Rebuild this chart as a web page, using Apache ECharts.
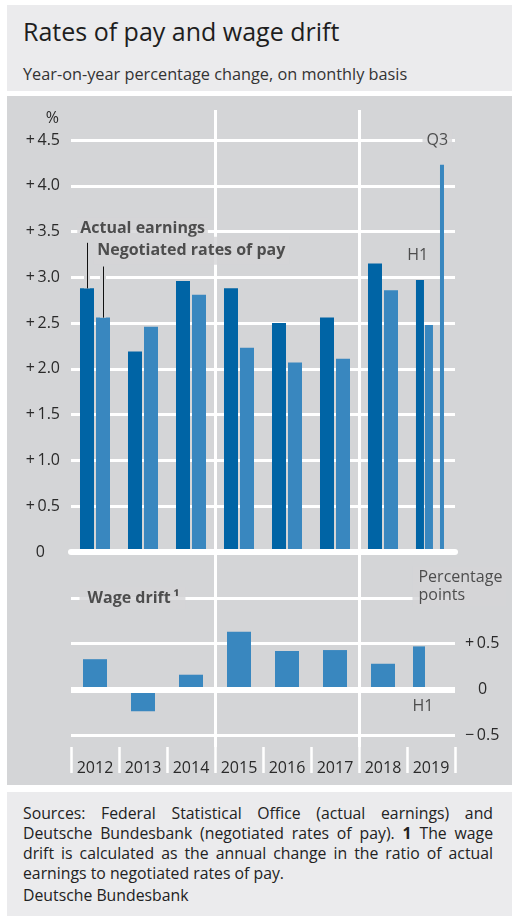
<!DOCTYPE html>
<html>
<head>
<meta charset="utf-8">
<script src="https://cdn.jsdelivr.net/npm/echarts@6/dist/echarts.min.js"></script>
<style>
  html, body { margin: 0; padding: 0; }
  body { width: 512px; height: 916px; background: #ffffff; position: relative; overflow: hidden;
         font-family: "Open Sans", sans-serif; color: #222; }
  #head { position: absolute; left: 7px; top: 5px; width: 505px; height: 86px; background: #ebebed; }
  #title { position: absolute; left: 16px; top: 11px; font-size: 25px; font-weight: 500; line-height: 30px; white-space: nowrap; color: #1e1e1e; }
  #subtitle { position: absolute; left: 16px; top: 59px; font-size: 16.3px; line-height: 20px; color: #333; white-space: nowrap; }
  #chart { position: absolute; left: 7px; top: 96px; width: 505px; height: 689px; }
  #foot { position: absolute; left: 7px; top: 792px; width: 505px; height: 124px; background: #ebebed; }
  #foottext { position: absolute; left: 16px; top: 11px; width: 470px; font-size: 15.8px; line-height: 20px; color: #222; }
  #foottext div { white-space: nowrap; }
  #foottext .j { text-align: justify; text-align-last: justify; }
  #foottext .src { margin-top: 2px; }
</style>
</head>
<body>
<div id="head">
  <div id="title">Rates of pay and wage drift</div>
  <div id="subtitle">Year-on-year percentage change, on monthly basis</div>
</div>
<div id="chart"></div>
<div id="foot">
  <div id="foottext">
    <div class="j">Sources: Federal Statistical Office (actual earnings) and</div>
    <div class="j">Deutsche Bundesbank (negotiated rates of pay). <b>1</b> The wage</div>
    <div class="j">drift is calculated as the annual change in the ratio of actual</div>
    <div>earnings to negotiated rates of pay.</div>
    <div class="src">Deutsche Bundesbank</div>
  </div>
</div>
<script>
// ---------------- data ----------------
const years = ['2012', '2013', '2014', '2015', '2016', '2017', '2018', '2019'];
// annual values 2012-2018 (2019 shown separately as H1 / Q3)
const actualEarnings   = [2.88, 2.19, 2.96, 2.88, 2.50, 2.56, 3.15, null];
const negotiatedRates  = [2.56, 2.46, 2.81, 2.23, 2.07, 2.11, 2.86, null];
const actualEarningsH1 = [2.97];   // 2019 H1
const negotiatedH1     = [2.48];   // 2019 H1
const negotiatedQ3     = [4.23];   // 2019 Q3
const wageDrift        = [0.33, -0.24, 0.16, 0.63, 0.42, 0.43, 0.28, null];
const wageDriftH1      = [0.47];   // 2019 H1
const topTicks    = [0, 0.5, 1.0, 1.5, 2.0, 2.5, 3.0, 3.5, 4.0, 4.5];
const bottomTicks = [-0.5, 0, 0.5, 1.0];

// ---------------- styling / layout ----------------
const DARK = '#0064a5', LIGHT = '#3987bf', BG = '#d4d5d7', TXT = '#2a2a2a', WHITE = '#ffffff';
const FONT = '"Open Sans", sans-serif';
const GRID_LEFT = 64, GRID_W = 384;
const PX_PER_YEAR = GRID_W / years.length;
const idx2019 = years.indexOf('2019');
// within-year positions (fraction of a year band) for the split 2019 bars
const posH1pair = idx2019 + 0.364;
const posQ3 = idx2019 + 0.729;
const posDriftH1 = idx2019 + 0.25;
const barHalf = 8 / PX_PER_YEAR;   // offset of grouped bar centres from the year centre

const missing = v => (v == null ? '-' : v);

function topLabel(v) {
  if (v === 0) return '{z|0}';
  return '+\u2009' + v.toFixed(1);
}
function bottomLabel(v) {
  if (Math.abs(v - 1) < 1e-9) return '';
  if (v === 0) return '{z|0}';
  return (v > 0 ? '+\u2009' : '\u2212\u2009') + Math.abs(v).toFixed(1);
}

const txt = (extra) => Object.assign({ fontFamily: FONT, fontSize: 16, color: TXT }, extra || {});

const annLabel = (text, extra) => ({
  show: true, position: 'right', distance: 0, formatter: text,
  fontFamily: FONT, fontSize: 16, color: TXT, ...(extra || {})
});

const topAnnotations = [
  { value: [0.119, 3.53], label: annLabel('Actual earnings', { fontWeight: 'bold', backgroundColor: BG, padding: [2, 3, 5, 3] }) },
  { value: [0.452, 3.29], label: annLabel('Negotiated rates of pay', { fontWeight: 'bold', backgroundColor: BG, padding: [5, 4, 7, 4] }) },
  { value: [7.3125, 4.5], label: annLabel('Q3', { backgroundColor: BG, padding: [2, 4, 2, 4] }) },
  { value: [6.994, 3.24], label: annLabel('H1') }
];
const bottomAnnotations = [
  { value: [0.167, 1.0], label: annLabel('Wage drift\u2009\u00b9', { fontWeight: 'bold', backgroundColor: BG, padding: [3, 6, 3, 8] }) },
  { value: [7.104, 1.0], label: annLabel('Percentage\npoints', { lineHeight: 18, backgroundColor: BG, padding: [2, 4, 2, 6], offset: [0, -11.5] }) },
  { value: [7.104, -0.19], label: annLabel('H1') }
];

const leader1x = 0.5 - barHalf, leader2x = 0.5 + barHalf;
const leaderTop1 = 3.377, leaderTop2 = 3.118;

const chart = echarts.init(document.getElementById('chart'), null, { renderer: 'canvas' });
const option = {
  animation: false,
  backgroundColor: BG,
  grid: [
    { left: GRID_LEFT, width: GRID_W, top: 44, height: 412, containLabel: false, outerBoundsMode: 'none' },
    { left: GRID_LEFT, width: GRID_W, top: 502, height: 137, containLabel: false, outerBoundsMode: 'none' },
    { left: GRID_LEFT, width: GRID_W, top: 14, height: 637, containLabel: false, outerBoundsMode: 'none' }
  ],
  xAxis: [
    { type: 'category', gridIndex: 0, data: years, position: 'bottom', z: 5,
      axisLine: { show: true, onZero: false, lineStyle: { color: WHITE, width: 6 } },
      axisTick: { show: false }, axisLabel: { show: false }, splitLine: { show: false } },
    { type: 'value', gridIndex: 0, min: 0, max: 8, show: false },
    { type: 'value', gridIndex: 0, min: 0, max: 8, show: false },
    { type: 'category', gridIndex: 1, data: years, position: 'bottom', offset: 38,
      axisLine: { show: false, onZero: false },
      axisTick: { show: true, inside: true, length: 26, lineStyle: { color: WHITE, width: 2.5 } },
      axisLabel: txt({ inside: true, margin: -3 }), splitLine: { show: false } },
    { type: 'value', gridIndex: 1, min: 0, max: 8, show: false },
    { type: 'value', gridIndex: 2, min: 0, max: 8, show: false }
  ],
  yAxis: [
    { type: 'value', gridIndex: 0, min: topTicks[0], max: topTicks[topTicks.length - 1], interval: 0.5, position: 'left',
      name: '%', nameLocation: 'end', nameGap: 22,
      nameTextStyle: txt({ align: 'right', verticalAlign: 'middle', padding: [0, 12, 0, 0] }),
      axisLine: { show: false }, axisTick: { show: false },
      axisLabel: txt({ margin: 11, formatter: topLabel, rich: { z: txt({ padding: [0, 15, 0, 0] }) } }),
      splitLine: { show: true, lineStyle: { color: WHITE, width: 3 } } },
    { type: 'value', gridIndex: 1, min: bottomTicks[0], max: bottomTicks[bottomTicks.length - 1], interval: 0.5, position: 'right',
      axisLine: { show: false }, axisTick: { show: false },
      axisLabel: txt({ margin: 10, formatter: bottomLabel, rich: { z: txt({ padding: [0, 0, 0, 13] }) } }),
      splitLine: { show: true, lineStyle: { color: WHITE, width: 3 } } },
    { type: 'value', gridIndex: 2, min: 0, max: 1, show: false }
  ],
  series: [
    { name: 'Separators', type: 'line', xAxisIndex: 5, yAxisIndex: 2, data: [[0, 0]], symbol: 'none',
      lineStyle: { opacity: 0 }, z: 1, silent: true,
      markLine: { silent: true, symbol: ['none', 'none'], label: { show: false }, z: 1,
        lineStyle: { color: WHITE, width: 3, type: 'solid' }, emphasis: { disabled: true },
        data: [{ xAxis: 3 }, { xAxis: 6 }] } },
    { name: 'Actual earnings', type: 'bar', xAxisIndex: 0, yAxisIndex: 0, data: actualEarnings.map(missing),
      barWidth: 14, barGap: '14.3%', itemStyle: { color: DARK }, silent: true },
    { name: 'Negotiated rates of pay', type: 'bar', xAxisIndex: 0, yAxisIndex: 0, data: negotiatedRates.map(missing),
      barWidth: 14, barGap: '14.3%', itemStyle: { color: LIGHT }, silent: true },
    { name: 'Actual earnings H1', type: 'bar', xAxisIndex: 1, yAxisIndex: 0, data: actualEarningsH1.map(v => [posH1pair, v]),
      barWidth: 8, barGap: '12.5%', itemStyle: { color: DARK }, silent: true },
    { name: 'Negotiated rates H1', type: 'bar', xAxisIndex: 1, yAxisIndex: 0, data: negotiatedH1.map(v => [posH1pair, v]),
      barWidth: 8, barGap: '12.5%', itemStyle: { color: LIGHT }, silent: true },
    { name: 'Negotiated rates Q3', type: 'bar', xAxisIndex: 2, yAxisIndex: 0, data: negotiatedQ3.map(v => [posQ3, v]),
      barWidth: 4, itemStyle: { color: LIGHT }, silent: true },
    { name: 'Wage drift', type: 'bar', xAxisIndex: 3, yAxisIndex: 1, data: wageDrift.map(missing),
      barWidth: 24, itemStyle: { color: LIGHT }, silent: true,
      markLine: { silent: true, symbol: ['none', 'none'], label: { show: false }, z: 5,
        lineStyle: { color: WHITE, width: 6, type: 'solid' }, emphasis: { disabled: true },
        data: [{ yAxis: 0 }] } },
    { name: 'Wage drift H1', type: 'bar', xAxisIndex: 4, yAxisIndex: 1, data: wageDriftH1.map(v => [posDriftH1, v]),
      barWidth: 12, itemStyle: { color: LIGHT }, silent: true },
    { name: 'Top notes', type: 'scatter', xAxisIndex: 2, yAxisIndex: 0, data: topAnnotations, symbolSize: 1,
      itemStyle: { color: 'rgba(0,0,0,0)' }, z: 10, clip: false, silent: true,
      markLine: { silent: true, symbol: ['none', 'none'], label: { show: false }, emphasis: { disabled: true },
        data: [
          [{ coord: [leader1x, actualEarnings[0]], lineStyle: { color: BG, width: 6, type: 'solid' } }, { coord: [leader1x, leaderTop1] }],
          [{ coord: [leader2x, negotiatedRates[0]], lineStyle: { color: BG, width: 6, type: 'solid' } }, { coord: [leader2x, leaderTop2] }],
          [{ coord: [leader1x, actualEarnings[0]], lineStyle: { color: '#111', width: 1, type: 'solid' } }, { coord: [leader1x, leaderTop1] }],
          [{ coord: [leader2x, negotiatedRates[0]], lineStyle: { color: '#111', width: 1, type: 'solid' } }, { coord: [leader2x, leaderTop2] }]
        ] } },
    { name: 'Bottom notes', type: 'scatter', xAxisIndex: 4, yAxisIndex: 1, data: bottomAnnotations, symbolSize: 1,
      itemStyle: { color: 'rgba(0,0,0,0)' }, z: 10, clip: false, silent: true }
  ]
};
chart.setOption(option);
</script>
</body>
</html>
